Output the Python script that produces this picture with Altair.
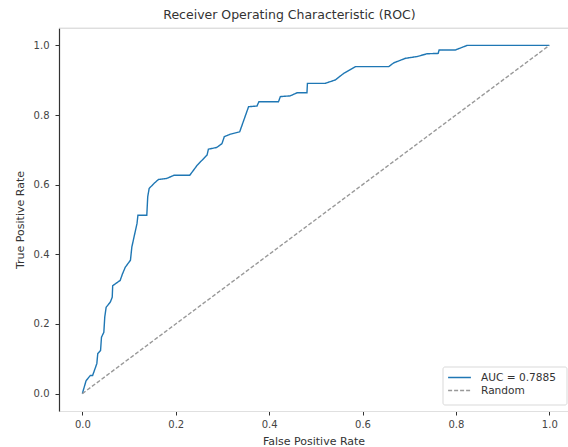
import altair as alt
import pandas as pd

# ROC curve values
fpr = [0.0, 0.003, 0.008, 0.017, 0.022, 0.031, 0.033, 0.039, 0.041, 0.046, 0.048, 0.051,
       0.060, 0.064, 0.065, 0.081, 0.086, 0.092, 0.103, 0.106, 0.113, 0.117, 0.119, 0.138,
       0.140, 0.143, 0.153, 0.163, 0.181, 0.196, 0.230, 0.246, 0.267, 0.270, 0.288, 0.299,
       0.304, 0.317, 0.337, 0.342, 0.356, 0.374, 0.378, 0.420, 0.424, 0.445, 0.460, 0.481,
       0.482, 0.520, 0.542, 0.560, 0.585, 0.656, 0.667, 0.692, 0.717, 0.738, 0.762, 0.764,
       0.799, 0.824, 1.0]
tpr = [0.0, 0.014, 0.037, 0.052, 0.052, 0.086, 0.115, 0.124, 0.162, 0.176, 0.220, 0.248,
       0.263, 0.277, 0.310, 0.325, 0.344, 0.363, 0.383, 0.421, 0.464, 0.488, 0.512, 0.512,
       0.565, 0.589, 0.603, 0.615, 0.618, 0.627, 0.627, 0.656, 0.685, 0.702, 0.707, 0.718,
       0.738, 0.745, 0.752, 0.771, 0.824, 0.826, 0.838, 0.838, 0.853, 0.855, 0.864, 0.864,
       0.891, 0.891, 0.901, 0.920, 0.939, 0.939, 0.950, 0.963, 0.968, 0.976, 0.977, 0.987,
       0.987, 1.0, 1.0]
random_x = [0.0, 1.0]
random_y = [0.0, 1.0]
series_names = ["AUC = 0.7885", "Random"]
tick_values = [0.0, 0.2, 0.4, 0.6, 0.8, 1.0]

roc_df = pd.DataFrame({"x": fpr, "y": tpr, "order": list(range(len(fpr))),
                       "series": series_names[0]})
rnd_df = pd.DataFrame({"x": random_x, "y": random_y, "order": [0, 1],
                       "series": series_names[1]})
df = pd.concat([roc_df, rnd_df], ignore_index=True)

FONT = "DejaVu Sans"

xscale = alt.Scale(domain=[-0.05, 1.04], nice=False, zero=False)
yscale = alt.Scale(domain=[-0.05, 1.05], nice=False, zero=False)

# legend frame (decoration)
legend_box = alt.Chart(pd.DataFrame({"k": [0]})).mark_rect(
    fill="white", stroke="#d9d9d9", strokeWidth=1, cornerRadius=2
).encode(x=alt.value(384), x2=alt.value(508), y=alt.value(339), y2=alt.value(377))

lines = alt.Chart(df).mark_line(strokeWidth=1.4, clip=True).encode(
    x=alt.X("x:Q", scale=xscale,
            axis=alt.Axis(title="False Positive Rate", values=tick_values, format=".1f",
                          grid=False, domainColor="#e0e0e0", domainWidth=1,
                          tickColor="#333333", tickSize=4, labelPadding=4,
                          labelFontSize=10, labelColor="#444444", titleFontSize=11,
                          titleColor="#333333", titleFontWeight="normal", titlePadding=6,
                          labelFont=FONT, titleFont=FONT)),
    y=alt.Y("y:Q", scale=yscale,
            axis=alt.Axis(title="True Positive Rate", values=tick_values, format=".1f",
                          grid=False, domainColor="#333333", domainWidth=1.2,
                          tickColor="#333333", tickSize=4, labelPadding=6,
                          labelFontSize=10, labelColor="#444444", titleFontSize=11,
                          titleColor="#333333", titleFontWeight="normal", titlePadding=8,
                          labelFont=FONT, titleFont=FONT)),
    order="order:Q",
    color=alt.Color("series:N",
                    scale=alt.Scale(domain=series_names, range=["#1f77b4", "#999999"]),
                    legend=alt.Legend(title=None, orient="none", legendX=394, legendY=343,
                                      padding=0,
                                      symbolType="M-2,0L2,0", symbolSize=130,
                                      symbolStrokeWidth=1.4, labelFontSize=10.6,
                                      labelFont=FONT, labelColor="#333333",
                                      labelOffset=15, rowPadding=0)),
    strokeDash=alt.StrokeDash("series:N",
                              scale=alt.Scale(domain=series_names, range=[[1, 0], [4, 2]]),
                              legend=None),
)

top_line = alt.Chart(pd.DataFrame({"k": [0]})).mark_rule(color="#e0e0e0", strokeWidth=1).encode(
    x=alt.value(0), x2=alt.value(509), y=alt.value(0)
)

chart = alt.layer(legend_box, lines, top_line).properties(
    width=509, height=383,
    title=alt.TitleParams("Receiver Operating Characteristic (ROC)", fontSize=12.5,
                          font=FONT, fontWeight="normal", color="#333333",
                          anchor="middle", dx=-24, offset=-3.5, baseline="alphabetic"),
    autosize=alt.AutoSizeParams(type="none"),
    padding={"left": 59, "top": 28, "right": 0, "bottom": 36},
).configure_view(stroke=None).configure(background="white")

chart.save("out.html", embed_options={"renderer": "svg", "actions": False})
